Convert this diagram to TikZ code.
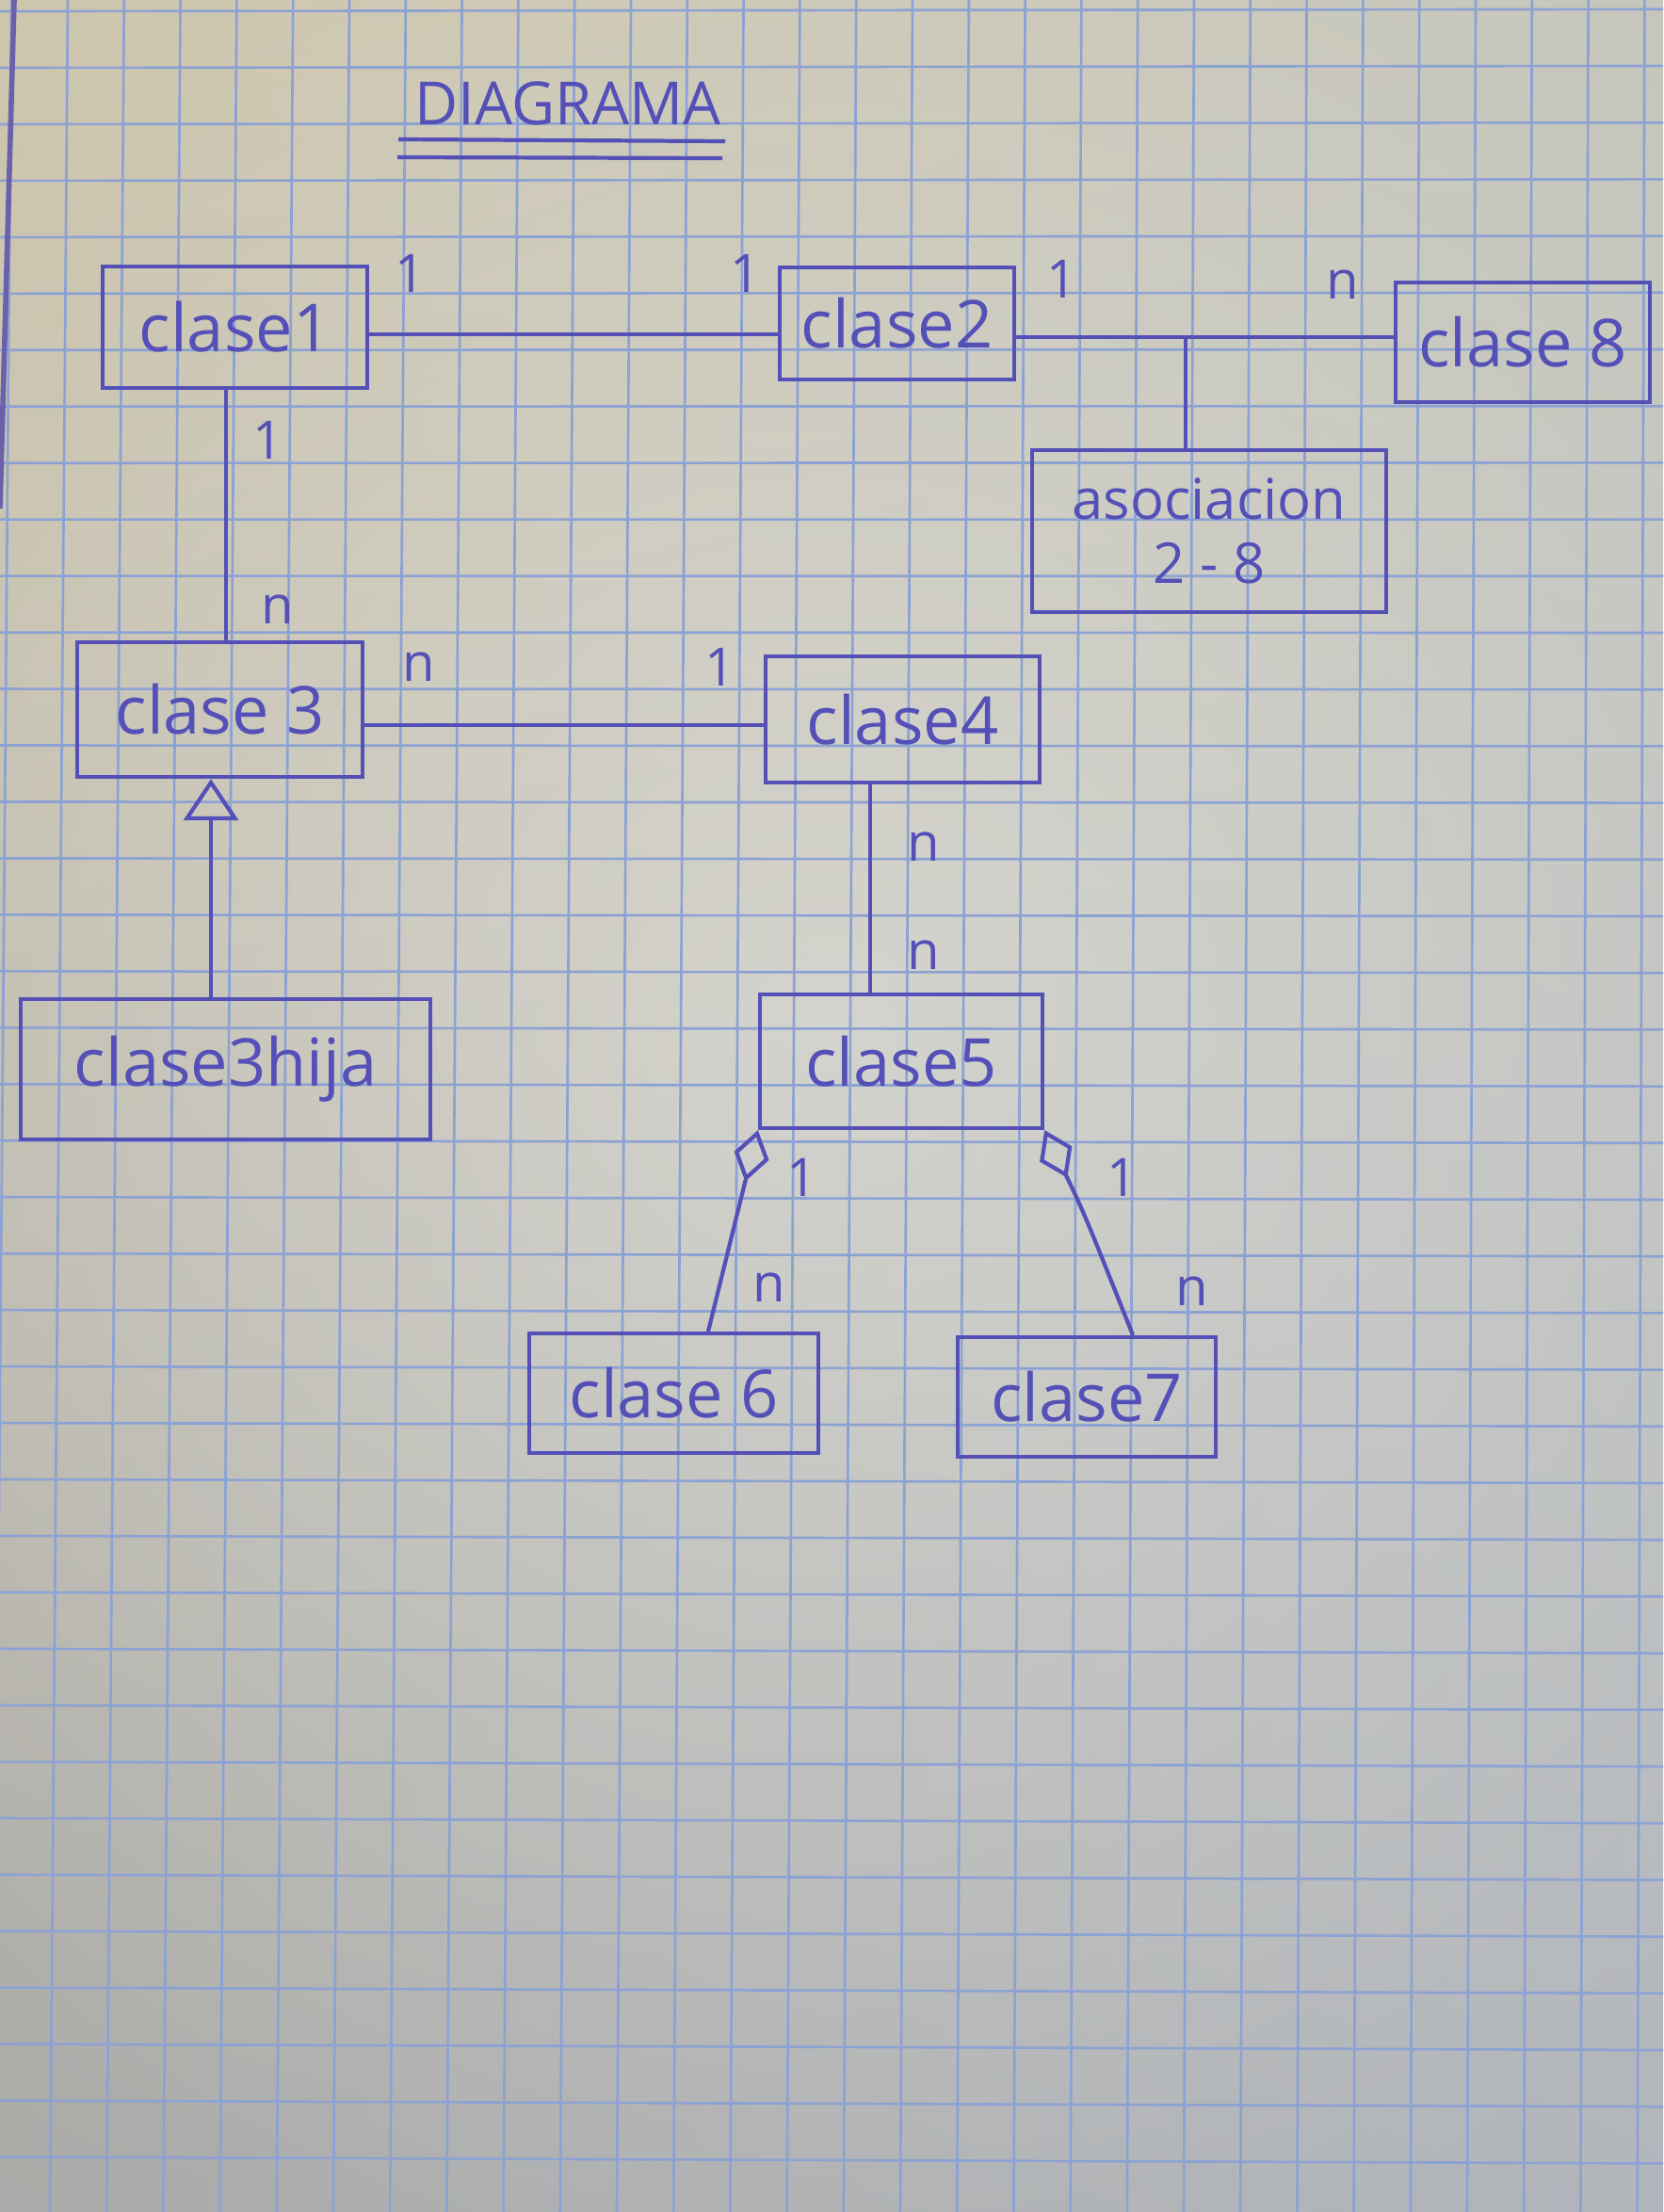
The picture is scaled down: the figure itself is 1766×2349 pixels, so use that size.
\documentclass[tikz,border=0pt]{standalone}
\usepackage{fontspec}
\setmainfont{Open Sans}
\usetikzlibrary{arrows.meta,fadings,shadings}
\definecolor{ink}{RGB}{84,80,184}
\definecolor{gridc}{RGB}{140,162,212}
\definecolor{marg}{RGB}{105,98,170}
\definecolor{pUL}{RGB}{206,198,172}
\definecolor{pUR}{RGB}{198,198,188}
\definecolor{pLL}{RGB}{170,170,168}
\definecolor{pLR}{RGB}{178,182,188}
\tikzfading[name=centerglow, inner color=transparent!0, outer color=transparent!100]
\begin{document}
\begin{tikzpicture}[x=0.01cm,y=-0.01cm,
  cls/.style={draw=ink, line width=1.2pt, text=ink, inner sep=0pt, font=\fontsize{20}{22}\selectfont},
  mult/.style={text=ink, inner sep=0pt, font=\fontsize{16}{18}\selectfont},
  conn/.style={draw=ink, line width=1.2pt},
  gen/.style={conn, -{Triangle[open, width=0.58cm, length=0.44cm]}},
  aggr/.style={conn, -{Diamond[open, width=0.38cm, length=0.56cm]}},
  gridline/.style={draw=gridc, line width=0.75pt}
]
\useasboundingbox (0,0) rectangle (1766,2349);
\begin{scope}
  \clip (0,0) rectangle (1766,2349);
  \shade[upper left=pUL, upper right=pUR, lower left=pLL, lower right=pLR] (0,0) rectangle (1766,2349);
  \fill[white, opacity=0.35, path fading=centerglow] (880,1100) circle (1400);
  \foreach \k in {-1,...,28} \draw[gridline] ({72+59.8*\k},0) -- ({53+60.2*\k},2349);
  \foreach \j in {-1,...,38} \draw[gridline] (0,{72+59.96*\j}) -- (1766,{70+60.2*\j});
  \draw[marg, line width=1.6pt] (15,0) -- (0,540);
\end{scope}

% title
\node[text=ink, inner sep=0pt, font=\fontsize{18}{20}\selectfont] (title) at (603,110) {DIAGRAMA};
\draw[conn] (423,148) -- (770,150);
\draw[conn] (422,167) -- (767,168);

% classes
\node[cls, minimum width=2.81cm, minimum height=1.29cm] (c1) at (249.5,347.5) {clase1};
\node[cls, minimum width=2.49cm, minimum height=1.19cm] (c2) at (952.5,343.5) {clase2};
\node[cls, minimum width=2.70cm, minimum height=1.27cm] (c8) at (1617,363.5) {clase 8};
\node[cls, minimum width=3.76cm, minimum height=1.72cm, align=center, font=\fontsize{17}{19.5}\selectfont] (as) at (1284,564) {asociacion\\2 - 8};
\node[cls, minimum width=3.03cm, minimum height=1.43cm] (c3) at (233.5,753.5) {clase 3};
\node[cls, minimum width=2.91cm, minimum height=1.34cm] (c4) at (958.5,764) {clase4};
\node[cls, minimum width=3.00cm, minimum height=1.42cm] (c5) at (957,1127) {clase5};
\node[cls, minimum width=4.35cm, minimum height=1.49cm] (hija) at (239.5,1135.5) {clase3hija};
\node[cls, minimum width=3.07cm, minimum height=1.27cm] (c6) at (715.5,1479.5) {clase 6};
\node[cls, minimum width=2.74cm, minimum height=1.27cm] (c7) at (1154,1483.5) {clase7};

% connectors
\draw[conn] (c1.east |- 0,355) -- (c2.west |- 0,355);
\draw[conn] (c2.east |- 0,358) -- (c8.west |- 0,358);
\coordinate (j28) at (1259,358);
\draw[conn] (j28) -- (j28 |- as.north);
\draw[conn] (c1.south -| 240,0) -- (c3.north -| 240,0);
\draw[conn] (c3.east |- 0,770) -- (c4.west |- 0,770);
\draw[conn] (c4.south -| 924,0) -- (c5.north -| 924,0);
\draw[gen] (hija.north -| 224,0) -- (c3.south -| 224,0);
\draw[aggr] (c6.north -| 752,0) -- (c5.south west);
\draw[aggr] (c7.north -| 1203,0) .. controls (1152,1290) .. (c5.south east);

% multiplicities
\node[mult] (m1) at (436,290) {1};
\node[mult] (m2) at (792,290) {1};
\node[mult] (m3) at (1128,296) {1};
\node[mult] (m4) at (1426,302) {n};
\node[mult] (m5) at (285,467) {1};
\node[mult] (m6) at (295,647) {n};
\node[mult] (m7) at (445,708) {n};
\node[mult] (m8) at (765,708) {1};
\node[mult] (m9) at (981,899) {n};
\node[mult] (m10) at (981,1014) {n};
\node[mult] (m11) at (852,1250) {1};
\node[mult] (m12) at (817,1367) {n};
\node[mult] (m13) at (1192,1250) {1};
\node[mult] (m14) at (1266,1371) {n};
\end{tikzpicture}
\end{document}
